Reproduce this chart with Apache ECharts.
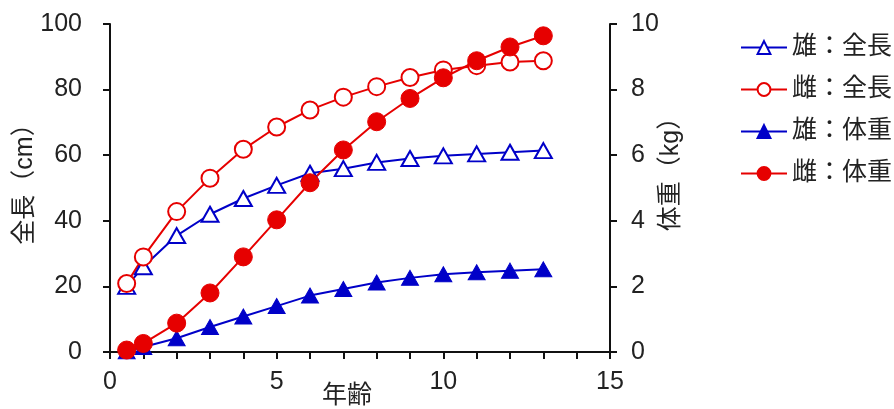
<!DOCTYPE html>
<html>
<head>
<meta charset="utf-8">
<script src="https://cdn.jsdelivr.net/npm/echarts@6/dist/echarts.min.js"></script>
<style>
  html, body { margin: 0; padding: 0; background: #fff; }
  #main { width: 894px; height: 409px; }
</style>
</head>
<body>
<div id="main"></div>
<script>
// 年齢 (years)
var ages = [0.5, 1, 2, 3, 4, 5, 6, 7, 8, 9, 10, 11, 12, 13];
// 全長 (cm)
var maleLength   = [20, 26, 35.5, 42, 46.8, 50.8, 54.5, 55.9, 57.8, 59, 59.8, 60.4, 60.9, 61.4];
var femaleLength = [20.9, 29, 42.8, 53, 61.8, 68.6, 73.8, 77.7, 80.9, 83.7, 86, 87.3, 88.4, 88.8];
// 体重 (kg)
var maleWeight   = [0.02, 0.15, 0.42, 0.76, 1.08, 1.4, 1.72, 1.92, 2.12, 2.26, 2.37, 2.43, 2.48, 2.52];
var femaleWeight = [0.06, 0.26, 0.88, 1.8, 2.9, 4.03, 5.16, 6.16, 7.02, 7.73, 8.36, 8.88, 9.3, 9.64];

var seriesNames = ['雄：全長', '雌：全長', '雄：体重', '雌：体重'];

var BLUE = '#0000c8';
var RED = '#e60000';
var FONT = '"Liberation Sans", "Noto Sans CJK JP", sans-serif';
var FS = 25;

function pairs(ys) {
  return ages.map(function (a, i) { return [a, ys[i]]; });
}

var dom = document.getElementById('main');
var myChart = echarts.init(dom);

var axisCommon = {
  axisLine: { show: true, lineStyle: { color: '#111', width: 2 } },
  axisTick: { show: true, inside: false, length: 7, lineStyle: { color: '#111', width: 2 } },
  splitLine: { show: false },
  nameMoveOverlap: false
};

var option = {
  backgroundColor: '#fff',
  animation: false,
  textStyle: { fontFamily: FONT },
  grid: { left: 110, right: 284, top: 24, bottom: 57, containLabel: false, outerBoundsMode: 'none' },
  legend: {
    orient: 'vertical',
    left: 735,
    top: 30,
    itemWidth: 46,
    itemHeight: 16,
    itemGap: 17,
    textStyle: { color: '#222', fontSize: FS, fontFamily: FONT },
    data: seriesNames
  },
  xAxis: Object.assign({}, axisCommon, {
    type: 'value',
    min: 0, max: 15, interval: 5,
    minorTick: { show: true, splitNumber: 5, length: 7, lineStyle: { color: '#111', width: 2 } },
    name: '年齢',
    nameLocation: 'middle',
    nameGap: 32,
    nameTextStyle: { color: '#222', fontSize: FS, fontFamily: FONT, padding: [0, 26, 0, 0] },
    axisLabel: { color: '#222', fontSize: FS, fontFamily: FONT, margin: 18 }
  }),
  yAxis: [
    Object.assign({}, axisCommon, {
      type: 'value',
      min: 0, max: 100, interval: 20,
      position: 'left',
      name: '全長（cm）',
      nameLocation: 'middle',
      nameGap: 72,
      nameRotate: 90,
      nameTextStyle: { color: '#222', fontSize: FS, fontFamily: FONT, padding: [0, 0, 0, 20] },
      axisLabel: { color: '#222', fontSize: FS, fontFamily: FONT, margin: 28 }
    }),
    Object.assign({}, axisCommon, {
      type: 'value',
      min: 0, max: 10, interval: 2,
      position: 'right',
      name: '体重（kg）',
      nameLocation: 'middle',
      nameGap: 49,
      nameRotate: 90,
      nameTextStyle: { color: '#222', fontSize: FS, fontFamily: FONT, padding: [0, 0, 0, 40] },
      axisLabel: { color: '#222', fontSize: FS, fontFamily: FONT, margin: 21 }
    })
  ],
  series: [
    {
      name: seriesNames[0], type: 'line', yAxisIndex: 0,
      data: pairs(maleLength),
      symbol: 'triangle', symbolSize: [17, 15],
      lineStyle: { color: BLUE, width: 2 },
      itemStyle: { color: '#fff', borderColor: BLUE, borderWidth: 2 }
    },
    {
      name: seriesNames[1], type: 'line', yAxisIndex: 0,
      data: pairs(femaleLength),
      symbol: 'circle', symbolSize: 17,
      lineStyle: { color: RED, width: 2 },
      itemStyle: { color: '#fff', borderColor: RED, borderWidth: 2 }
    },
    {
      name: seriesNames[2], type: 'line', yAxisIndex: 1,
      data: pairs(maleWeight),
      symbol: 'triangle', symbolSize: [17, 15],
      lineStyle: { color: BLUE, width: 2 },
      itemStyle: { color: BLUE, borderColor: BLUE, borderWidth: 1 }
    },
    {
      name: seriesNames[3], type: 'line', yAxisIndex: 1,
      data: pairs(femaleWeight),
      symbol: 'circle', symbolSize: 18,
      lineStyle: { color: RED, width: 2 },
      itemStyle: { color: RED, borderColor: RED, borderWidth: 1 }
    }
  ]
};

if (option && typeof option === 'object') {
  myChart.setOption(option);
}

window.onresize = function () {
  myChart.resize();
};
</script>
</body>
</html>
